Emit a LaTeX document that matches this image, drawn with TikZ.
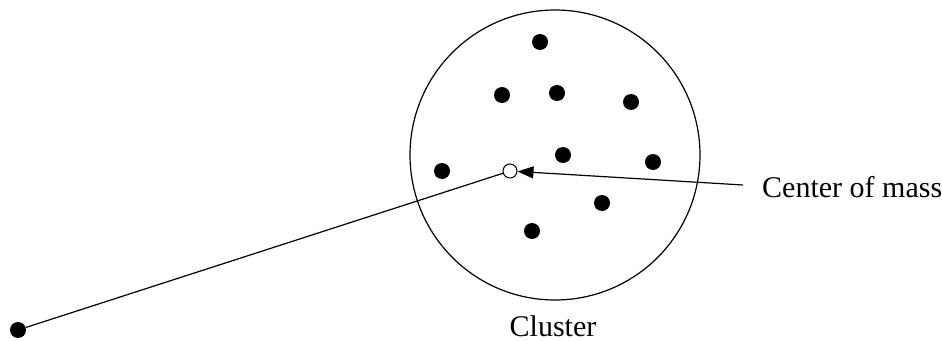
\documentclass[tikz,border=0pt]{standalone}
\usepackage{fontspec}
\setmainfont{Liberation Serif}
\usetikzlibrary{arrows.meta}
\tikzset{
  dot/.style={circle, fill=black, inner sep=0pt, minimum size=16pt},
  comdot/.style={circle, draw=black, fill=white, inner sep=0pt, minimum size=14pt, line width=1pt},
  clusterring/.style={circle, draw=black, inner sep=0pt, minimum size=290pt, line width=1.2pt},
  lbl/.style={inner sep=0pt, font=\fontsize{30}{36}\selectfont},
  conn/.style={draw=black, line width=1.2pt}
}
\begin{document}
\begin{tikzpicture}[x=1pt, y=-1pt]
\useasboundingbox (0,0) rectangle (942,340);
\node[clusterring] (ring) at (555,155) {};
\node[dot] (p1) at (540,42) {};
\node[dot] (p2) at (502,95) {};
\node[dot] (p3) at (557,93) {};
\node[dot] (p4) at (631,102) {};
\node[dot] (p5) at (563,155) {};
\node[dot] (p6) at (442,171) {};
\node[dot] (p7) at (653,162) {};
\node[dot] (p8) at (602,203) {};
\node[dot] (p9) at (532,231) {};
\node[dot] (far) at (18,330) {};
\node[comdot] (com) at (510,171) {};
\coordinate (arrstart) at (743,185);
\draw[conn] (far) -- (com);
\draw[conn, -{Triangle[length=16pt, width=12pt]}] (arrstart) -- (com);
\node[lbl, anchor=base west] (comlabel) at (762,197) {Center of mass};
\node[lbl, anchor=base] (clusterlabel) at (553,336) {Cluster};
\end{tikzpicture}
\end{document}
